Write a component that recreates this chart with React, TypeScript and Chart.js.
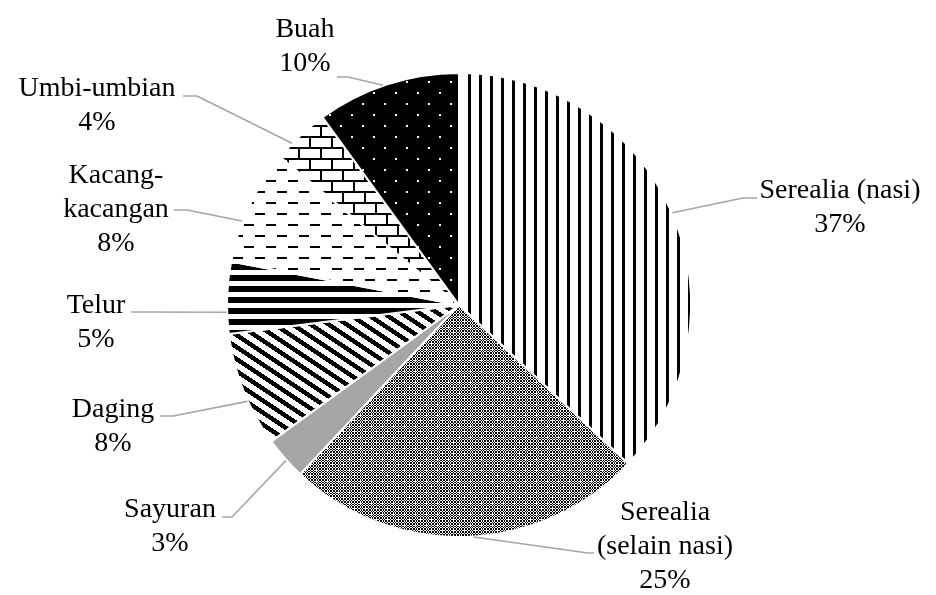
import React, { useEffect, useRef } from 'react';
import { Chart, registerables } from 'chart.js';

Chart.register(...registerables);

// Food groups, clockwise from twelve o'clock
const categories = [
  'Serealia (nasi)',
  'Serealia (selain nasi)',
  'Sayuran',
  'Daging',
  'Telur',
  'Kacang-kacangan',
  'Umbi-umbian',
  'Buah',
];

// Share of each group, in percent
const shares = [37, 25, 3, 8, 5, 8, 4, 10];

// How each category name is broken over lines in its label
const labelLines = [
  ['Serealia (nasi)'],
  ['Serealia', '(selain nasi)'],
  ['Sayuran'],
  ['Daging'],
  ['Telur'],
  ['Kacang-', 'kacangan'],
  ['Umbi-umbian'],
  ['Buah'],
];

// Label placement: text centre x, first baseline, leader stub (from x, to x, at y),
// and where along its slice's arc the leader meets the pie (0 = start, 1 = end).
const labelLayout = [
  { cx: 840, base: 198, stub: [757, 743, 198], t: 0.5 },
  { cx: 665, base: 520, stub: [594, 588, 553], t: 0.48 },
  { cx: 170, base: 517, stub: [222, 232, 517], t: 0.45 },
  { cx: 113, base: 417, stub: [160, 173, 416], t: 0.4 },
  { cx: 96, base: 313, stub: [131, 131, 312], t: 0.3 },
  { cx: 116, base: 183, stub: [174, 187, 210], t: 0.36 },
  { cx: 97, base: 96, stub: [183, 197, 96], t: 0.31 },
  { cx: 305, base: 37, stub: [337, 348, 77], t: 0.47 },
];

const FONT = '28px "Liberation Serif", "Times New Roman", serif';
const LINE_GAP = 34;
const LEADER = '#a6a6a6';

const mod = (a: number, n: number) => ((a % n) + n) % n;

// Build a repeating fill from a per-pixel rule (true = ink)
function tilePattern(
  ctx: CanvasRenderingContext2D,
  w: number,
  h: number,
  ink: (x: number, y: number) => boolean,
  inkColor: [number, number, number],
  paper: [number, number, number]
): CanvasPattern {
  const c = document.createElement('canvas');
  c.width = w;
  c.height = h;
  const g = c.getContext('2d')!;
  const img = g.createImageData(w, h);
  for (let y = 0; y < h; y++) {
    for (let x = 0; x < w; x++) {
      const col = ink(x, y) ? inkColor : paper;
      const k = (y * w + x) * 4;
      img.data[k] = col[0];
      img.data[k + 1] = col[1];
      img.data[k + 2] = col[2];
      img.data[k + 3] = 255;
    }
  }
  g.putImageData(img, 0, 0);
  return ctx.createPattern(c, 'repeat')!;
}

// 8-cell motif spread over 11 pixels: which motif cell each pixel falls in
const CELL_OF = [0, 0, 1, 2, 2, 3, 4, 4, 5, 6, 7];

function buildFills(ctx: CanvasRenderingContext2D): (CanvasPattern | string)[] {
  const black: [number, number, number] = [0, 0, 0];
  const white: [number, number, number] = [255, 255, 255];

  // narrow vertical lines
  const vertical = tilePattern(ctx, 11, 1, (x) => x >= 6 && x < 9, black, white);

  // fine checker with small white crosses
  const checker = tilePattern(
    ctx,
    11,
    11,
    (x, y) => {
      const i = CELL_OF[x];
      const j = CELL_OF[y];
      if ((i === 1 && j === 1) || (i === 5 && j === 5)) return false;
      return (i + j) % 2 === 0;
    },
    black,
    white
  );

  // wide downward diagonal stripes
  const diagonal = tilePattern(
    ctx,
    18,
    12,
    (x, y) => mod(x + 0.5 - 1.5 * (y + 0.5), 18) < 8,
    black,
    white
  );

  // thick horizontal stripes
  const horizontal = tilePattern(ctx, 1, 11, (_x, y) => y < 6, black, white);

  // staggered horizontal dashes
  const dashes = tilePattern(
    ctx,
    22,
    22,
    (x, y) =>
      (y >= 4 && y < 6 && mod(x - 2, 22) < 10) ||
      (y >= 15 && y < 17 && mod(x - 13, 22) < 10),
    black,
    white
  );

  // brick wall
  const bricks = tilePattern(
    ctx,
    22,
    22,
    (x, y) => {
      if ((y >= 4 && y < 6) || (y >= 15 && y < 17)) return true;
      if (y >= 6 && y < 15) return x >= 1 && x < 3;
      return x >= 12 && x < 14;
    },
    black,
    white
  );

  // white dots on black
  const dots = tilePattern(
    ctx,
    22,
    22,
    (x, y) => {
      const a = mod(x - 10, 22) < 2 && mod(y - 15, 22) < 2;
      const b = mod(x - 21, 22) < 2 && mod(y - 4, 22) < 2;
      return !(a || b);
    },
    black,
    white
  );

  return [vertical, checker, '#a6a6a6', diagonal, horizontal, dashes, bricks, dots];
}

const labelPlugin = {
  id: 'pieLabels',
  afterDatasetsDraw(chart: Chart) {
    const { ctx } = chart;
    const meta = chart.getDatasetMeta(0);
    ctx.save();
    meta.data.forEach((el: any, i: number) => {
      const lay = labelLayout[i];
      const p = el.getProps(['x', 'y', 'startAngle', 'endAngle', 'outerRadius'], true);
      const ang = p.startAngle + lay.t * (p.endAngle - p.startAngle);
      const r = p.outerRadius + 0.5;
      const ex = p.x + Math.cos(ang) * r;
      const ey = p.y + Math.sin(ang) * r;
      const [sx1, sx2, sy] = lay.stub;

      ctx.strokeStyle = LEADER;
      ctx.lineWidth = 1.6;
      ctx.lineJoin = 'round';
      ctx.beginPath();
      ctx.moveTo(sx1, sy);
      ctx.lineTo(sx2, sy);
      ctx.lineTo(ex, ey);
      ctx.stroke();

      const lines = [...labelLines[i], `${shares[i]}%`];
      ctx.fillStyle = '#000000';
      ctx.font = FONT;
      ctx.textAlign = 'center';
      ctx.textBaseline = 'alphabetic';
      lines.forEach((txt, k) => {
        ctx.fillText(txt, lay.cx, lay.base + k * LINE_GAP);
      });
    });
    ctx.restore();
  },
};

export default function App() {
  const ref = useRef<HTMLCanvasElement | null>(null);

  useEffect(() => {
    const canvas = ref.current;
    if (!canvas) return;
    const ctx = canvas.getContext('2d')!;
    const fills = buildFills(ctx);

    const chart = new Chart(canvas, {
      type: 'pie',
      data: {
        labels: categories,
        datasets: [
          {
            data: shares,
            backgroundColor: fills as any,
            borderColor: '#ffffff',
            borderWidth: 2,
          },
        ],
      },
      options: {
        animation: false,
        responsive: false,
        radius: 232,
        layout: { padding: { left: 0, right: 18, top: 15, bottom: 0 } },
        plugins: {
          legend: { display: false },
          tooltip: { enabled: false },
        },
      } as any,
      plugins: [labelPlugin as any],
    });

    return () => chart.destroy();
  }, []);

  return (
    <div
      style={{
        position: 'fixed',
        left: 0,
        top: 0,
        width: 936,
        height: 595,
        background: '#ffffff',
      }}
    >
      <canvas ref={ref} width={936} height={595} style={{ width: 936, height: 595, display: 'block' }} />
    </div>
  );
}
